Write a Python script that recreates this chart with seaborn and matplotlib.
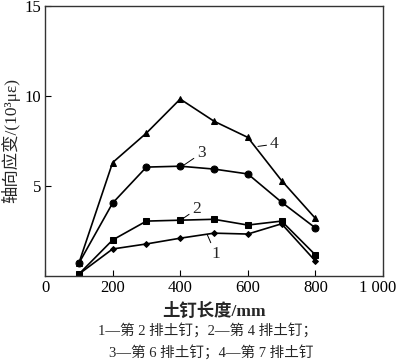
import matplotlib
matplotlib.use("Agg")
import matplotlib.pyplot as plt
import matplotlib.transforms as mtransforms
import seaborn as sns
import pandas as pd

x_len = [100, 200, 300, 400, 500, 600, 700, 800]
s1 = [0.1, 1.5, 1.78, 2.1, 2.38, 2.33, 2.9, 0.83]
s2 = [0.1, 2.0, 3.05, 3.1, 3.15, 2.83, 3.05, 1.17]
s3 = [0.7, 4.05, 6.05, 6.1, 5.94, 5.67, 4.1, 2.67]
s4 = [0.7, 6.3, 7.94, 9.83, 8.6, 7.7, 5.3, 3.2]
series_names = ["1", "2", "3", "4"]
xticks = [0, 200, 400, 600, 800, 1000]
xticklabels = ["0", "200", "400", "600", "800", "1 000"]
yticks = [5, 10, 15]

sns.set_style("ticks")
plt.rcParams['font.family'] = ['Liberation Serif', 'Noto Sans CJK SC', 'DejaVu Sans']

rows = []
for name, vals in zip(series_names, [s1, s2, s3, s4]):
    for xv, yv in zip(x_len, vals):
        rows.append({"len": xv, "strain": yv, "s": name})
df = pd.DataFrame(rows)

fig = plt.figure(figsize=(4.0, 3.62), dpi=100)
ax = fig.add_axes([0.1125, 0.2376, 0.845, 0.7458])
markers = {"1": "D", "2": "s", "3": "o", "4": "^"}
sizes = {"1": 3, "2": 5, "3": 5, "4": 5}
for name in series_names:
    sub = df[df.s == name]
    sns.lineplot(data=sub, x="len", y="strain", ax=ax, color="black",
                 marker=markers[name], markersize=sizes[name], linewidth=1.2,
                 markeredgecolor="black", legend=False)

ax.set_xlim(0, 1000)
ax.set_ylim(0, 15)
ax.set_xticks(xticks)
ax.set_xticklabels(xticklabels)
ax.set_yticks(yticks)
ax.tick_params(direction="in", length=4, labelsize=12, colors="black", pad=3)
last = ax.get_xticklabels()[-1]
last.set_transform(last.get_transform() +
                   mtransforms.ScaledTranslation(-4 / 72, 0, fig.dpi_scale_trans))
for sp in ax.spines.values():
    sp.set_visible(True)
    sp.set_linewidth(1.0)
    sp.set_color("#333333")
ax.set_xlabel("土钉长度/mm", fontsize=12.5, fontweight="bold", labelpad=5)
ax.set_ylabel("轴向应变/(10³με)", fontsize=12.5, labelpad=3)

# series annotations
arrow = dict(arrowstyle="-", color="black", lw=0.7, shrinkA=0, shrinkB=0)
ax.annotate("1", xy=(480, 2.3), xytext=(492, 1.0), fontsize=12.5, arrowprops=arrow)
ax.annotate("2", xy=(405, 3.15), xytext=(436, 3.5), fontsize=12.5, arrowprops=arrow)
ax.annotate("3", xy=(410, 6.15), xytext=(450, 6.6), fontsize=12.5, arrowprops=arrow)
ax.annotate("4", xy=(630, 7.2), xytext=(665, 7.1), fontsize=12.5, arrowprops=arrow)

fig.text(0.519, 0.088, "1—第 2 排土钉；2—第 4 排土钉；", ha="center", va="center", fontsize=10.5)
fig.text(0.528, 0.027, "3—第 6 排土钉；4—第 7 排土钉", ha="center", va="center", fontsize=10.5)

fig.savefig("out.png", dpi=100)
